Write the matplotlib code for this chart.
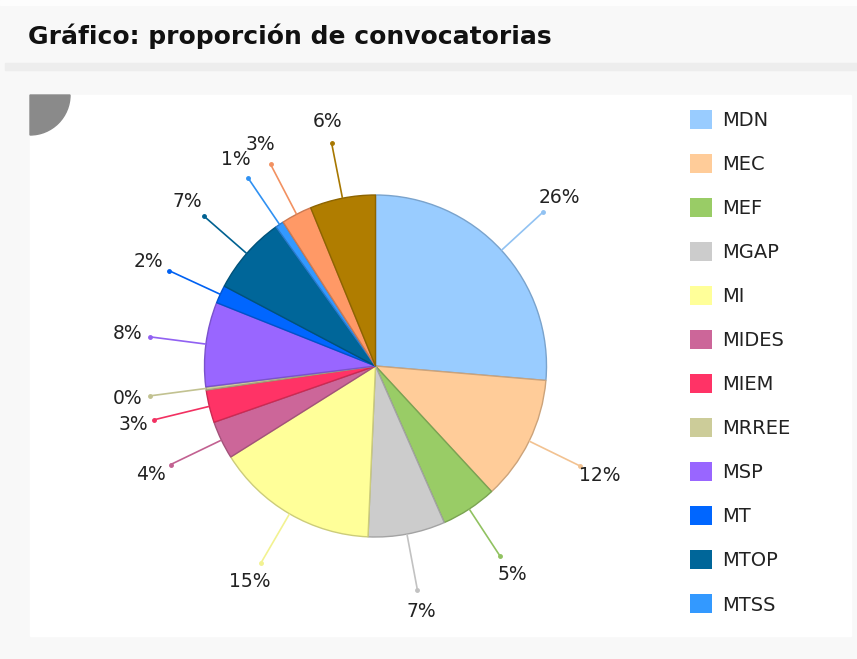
"""Pie chart: proporción de convocatorias por organismo"""

import numpy as np
import matplotlib
matplotlib.use("Agg")
import matplotlib.pyplot as plt
from matplotlib.patches import Rectangle, Wedge, Patch

# Data (percent shares)
organismos = ["MDN", "MEC", "MEF", "MGAP", "MI", "MIDES", "MIEM", "MRREE",
              "MSP", "MT", "MTOP", "MTSS", "MVOTMA", "OPP"]
shares = [26.4, 11.8, 5.3, 7.3, 15.4, 3.6, 3.1, 0.3,
          8.0, 1.7, 7.4, 0.8, 2.9, 6.2]
colors = ["#99CCFF", "#FFCC99", "#99CC66", "#CCCCCC", "#FFFF99", "#CC6699",
          "#FF3366", "#CCCC99", "#9966FF", "#0066FF", "#006699", "#3399FF",
          "#FF9966", "#B07D00"]
n_legend = 12  # the legend in the screenshot is cut after MTSS

W, H = 857, 659
fig = plt.figure(figsize=(W / 100, H / 100), dpi=100)
fig.patch.set_facecolor("#f8f8f8")

# page background pieces
fig.patches.append(Rectangle((0, 1 - 5 / H), 1, 5 / H, transform=fig.transFigure,
                             color="#fdfdfd", zorder=-3))
fig.patches.append(Rectangle((5 / W, 1 - 70 / H), 1, 7 / H, transform=fig.transFigure,
                             color="#ededed", zorder=-3))
fig.patches.append(Rectangle((30 / W, 1 - 636 / H), 821 / W, 541 / H,
                             transform=fig.transFigure, color="white", zorder=-3))
# grey corner decoration
fig.patches.append(Wedge((30 / 100, (H - 95) / 100), 0.40, 270, 360,
                         transform=fig.dpi_scale_trans, color="#8a8a8a", zorder=-2))

fig.text(28 / W, 1 - 44 / H, "Gráfico: proporción de convocatorias",
         fontsize=18, fontweight="bold", family="DejaVu Sans",
         color="#111111", va="baseline", ha="left")

# Pie axes: centre at (375.5, 366) px, radius 171 px
R = 171
L = 1.6
cx, cy = 375.5, H - 366
size = 2 * L * R
ax = fig.add_axes([(cx - size / 2) / W, (cy - size / 2) / H, size / W, size / H])


def darker(c, f=0.8):
    rgb = np.array(matplotlib.colors.to_rgb(c))
    return tuple(rgb * f)


wedges, _ = ax.pie(shares, colors=colors, startangle=90, counterclock=False,
                   radius=1.0, wedgeprops=dict(linewidth=1.0))
for w, c in zip(wedges, colors):
    w.set_edgecolor(darker(c, 0.8))

total = sum(shares)
for w, val, c in zip(wedges, shares, colors):
    mid = np.deg2rad((w.theta1 + w.theta2) / 2)
    x0, y0 = np.cos(mid), np.sin(mid)
    ax.plot([x0, 1.33 * x0], [y0, 1.33 * y0], color=darker(c, 0.95), lw=1.2,
            solid_capstyle="butt", zorder=3)
    ax.plot(1.33 * x0, 1.33 * y0, "o", color=darker(c, 0.95), ms=2.5, zorder=3)
    ax.text(1.46 * x0, 1.46 * y0, f"{100 * val / total:.0f}%", fontsize=13.5,
            family="DejaVu Sans", color="#222222", ha="center", va="center")

ax.set_xlim(-L, L)
ax.set_ylim(-L, L)
ax.set_aspect("equal")
ax.axis("off")

handles = [Patch(facecolor=c, edgecolor="none") for c in colors[:n_legend]]
fig.legend(handles, organismos[:n_legend], loc="upper left",
           bbox_to_anchor=(690 / W, 1 - 110 / H), frameon=False,
           prop={"family": "DejaVu Sans", "size": 14},
           handlelength=1.13, handleheight=1.13, handletextpad=0.5,
           labelspacing=1.23, borderpad=0, borderaxespad=0,
           labelcolor="#222222")

fig.savefig("out.png", dpi=100, facecolor=fig.get_facecolor())
